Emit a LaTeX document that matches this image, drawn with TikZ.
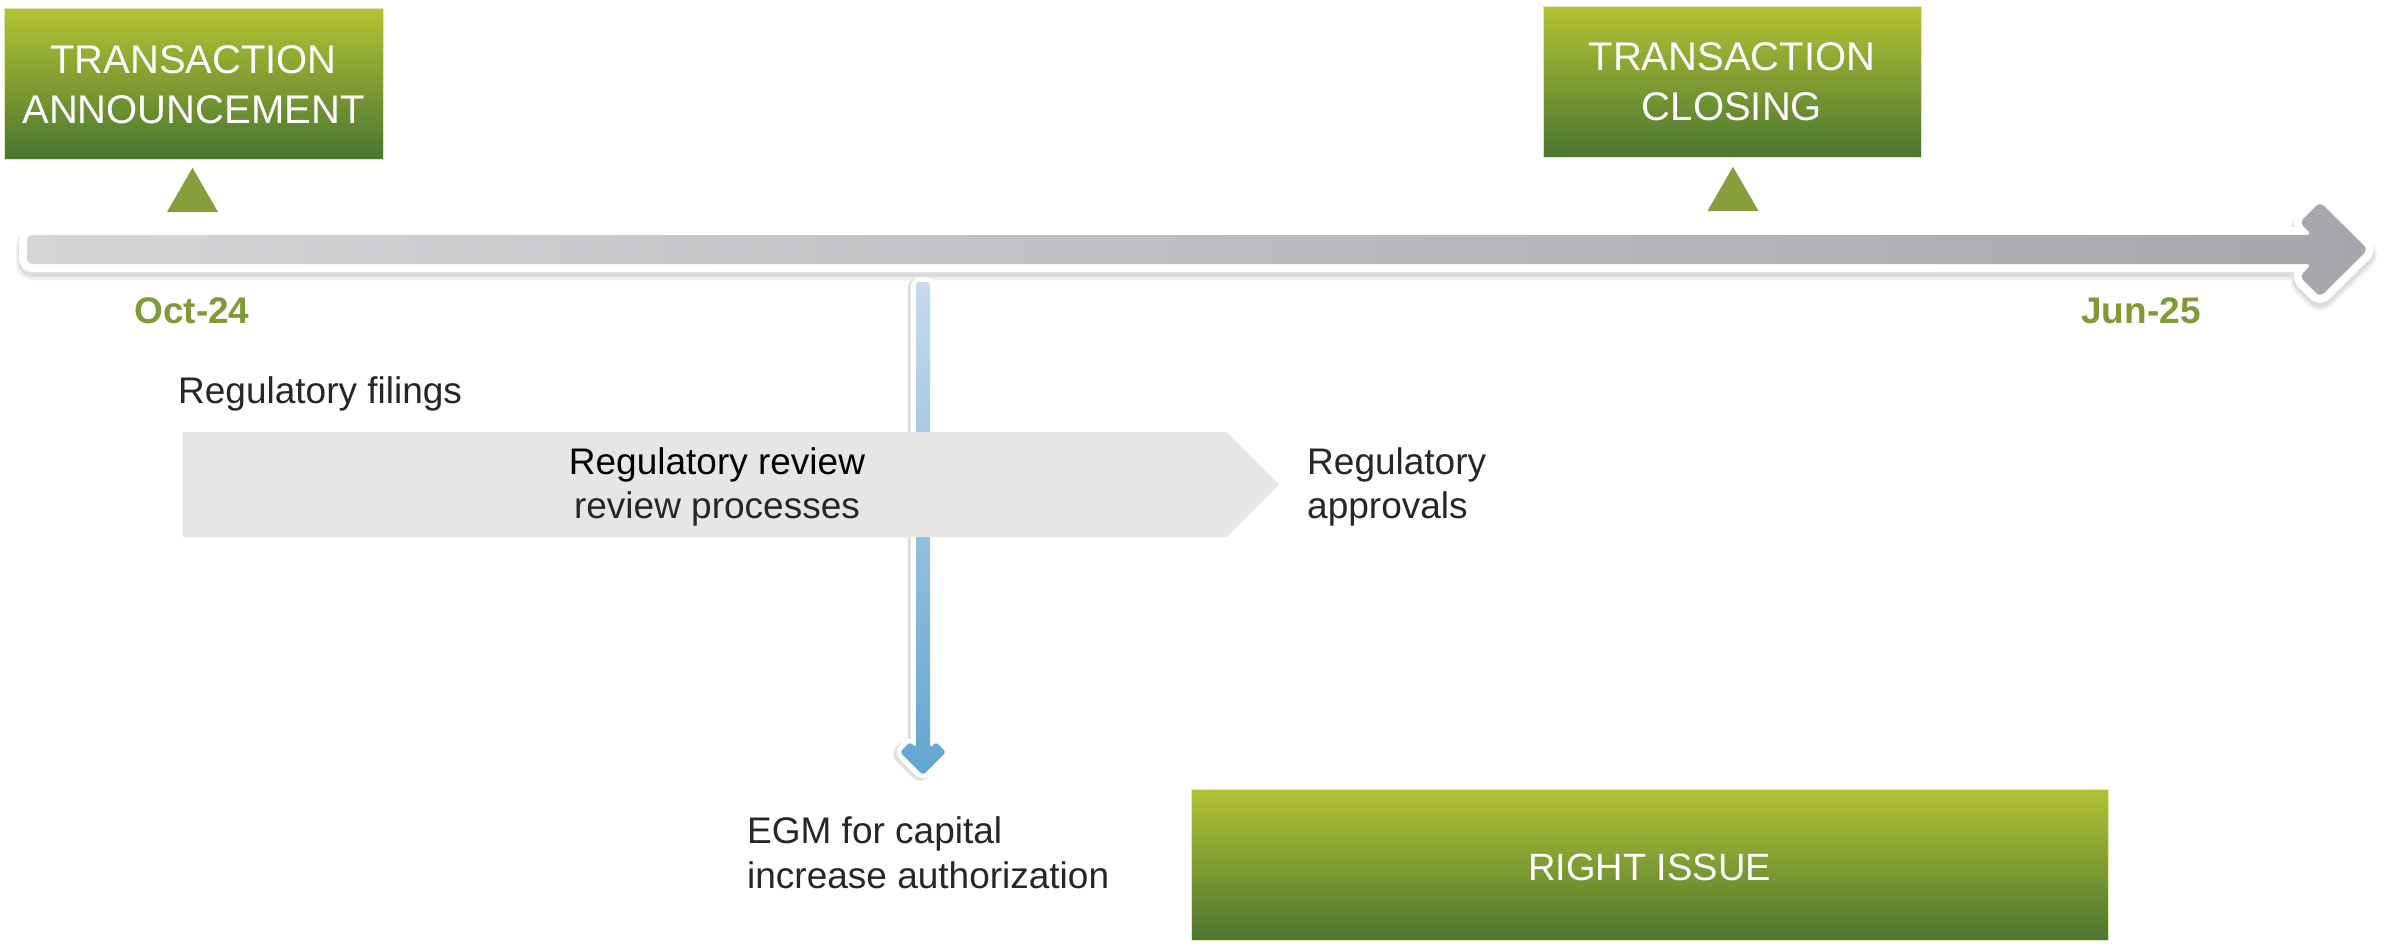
\documentclass[tikz,border=0pt]{standalone}
\usepackage{fontspec}
\setmainfont{Liberation Sans}
\usetikzlibrary{shapes.geometric,shapes.symbols}
\definecolor{gtop}{HTML}{B3C333}
\definecolor{gmid}{HTML}{72B247}
\definecolor{gbot}{HTML}{4B7631}
\definecolor{trigreen}{HTML}{889D3B}
\definecolor{dategreen}{HTML}{7F9A36}
\definecolor{revgray}{HTML}{E6E6E6}
\definecolor{txtdark}{HTML}{262626}
\definecolor{tlleft}{HTML}{D4D5D7}
\definecolor{tlright}{HTML}{A6A7AB}
\definecolor{bluetop}{HTML}{C8D9EB}
\definecolor{bluebot}{HTML}{62A6D0}
\begin{document}
\begin{tikzpicture}[x=1pt,y=-1pt,
  greenbox/.style={rectangle, inner sep=0pt, outer sep=0pt, top color=gtop, middle color=gmid, bottom color=gbot, draw=gtop!40!white, line width=0.8pt},
  headtxt/.style={font=\fontsize{40}{50}\selectfont, text=white, inner sep=0pt, anchor=base},
  bodytxt/.style={font=\fontsize{37}{44}\selectfont, text=txtdark, inner sep=0pt, anchor=base west},
  datetxt/.style={font=\fontsize{37}{44}\selectfont\bfseries, text=dategreen, inner sep=0pt, anchor=base},
  tri/.style={regular polygon, regular polygon sides=3, minimum size=59pt, inner sep=0pt, outer sep=0pt, fill=trigreen},
  arrowborder/.style={draw=white, line width=#1, line join=round, rounded corners=5pt},
]
\useasboundingbox (0,0) rectangle (2394,943);
\fill[white] (0,0) rectangle (2394,943);

% ---- timeline arrow ----
\def\tlpath{(27,235) -- (2312,235) -- (2299.5,222.5) -- (2320,202) -- (2368,249.5) -- (2320,297) -- (2299.5,276.5) -- (2312,264) -- (27,264) -- cycle}
\begin{scope}[yshift=-5pt]
\draw[black, opacity=0.06, line width=22pt, line join=round, rounded corners=5pt] \tlpath;
\end{scope}
\begin{scope}[yshift=-4pt]
\draw[black, opacity=0.08, line width=18pt, line join=round, rounded corners=5pt] \tlpath;
\end{scope}
\draw[arrowborder=16pt] \tlpath;
\shade[left color=tlleft, right color=tlright, rounded corners=5pt] \tlpath;

% ---- blue vertical arrow ----
\def\blpath{(916,282) -- (916,748) -- (910,742) -- (900,752) -- (923,775) -- (946,752) -- (936,742) -- (930,748) -- (930,282) -- cycle}
\begin{scope}[xshift=-3pt, yshift=-2pt]
\draw[black, opacity=0.12, line width=11pt, line join=round, rounded corners=4pt] \blpath;
\end{scope}
\draw[arrowborder=10pt, rounded corners=4pt] \blpath;
\shade[top color=bluetop, bottom color=bluebot, rounded corners=3pt] \blpath;

% ---- header boxes ----
\node[greenbox, minimum width=379pt, minimum height=151pt] (ann) at (193.5,83.5) {};
\node[headtxt] (ann1) at (193.5,73) {TRANSACTION};
\node[headtxt] (ann2) at (193.5,123) {ANNOUNCEMENT};
\node[tri] (tri1) at (192.5,197.3) {};

\node[greenbox, minimum width=378pt, minimum height=151pt] (clo) at (1732,81.5) {};
\node[headtxt] (clo1) at (1732,70) {TRANSACTION};
\node[headtxt] (clo2) at (1732,120) {CLOSING};
\node[tri] (tri2) at (1733,196.3) {};

% ---- dates ----
\node[datetxt] (oct) at (192,323) {Oct-24};
\node[datetxt] (jun) at (2141,323) {Jun-25};

% ---- regulatory ----
\node[bodytxt] (fil) at (178,403) {Regulatory filings};
\node[signal, signal to=east, signal pointer angle=90, minimum width=1096pt, minimum height=105pt, inner sep=0pt, outer sep=0pt, fill=revgray, anchor=west] (rev) at (183,484.5) {};
\node[font=\fontsize{37}{44}\selectfont, text=black, inner sep=0pt, anchor=base] (rev1) at (717,474) {Regulatory review};
\node[font=\fontsize{37}{44}\selectfont, text=txtdark, inner sep=0pt, anchor=base] (rev2) at (717,518) {review processes};
\node[bodytxt] (app1) at (1307,474) {Regulatory};
\node[bodytxt] (app2) at (1307,518) {approvals};

% ---- EGM ----
\node[bodytxt] (egm1) at (747,843) {EGM for capital};
\node[bodytxt] (egm2) at (747,888) {increase authorization};

% ---- right issue ----
\node[greenbox, minimum width=917pt, minimum height=151pt] (ri) at (1649.5,864.5) {};
\node[headtxt, font=\fontsize{38}{46}\selectfont] (ritxt) at (1649.5,880) {RIGHT ISSUE};
\end{tikzpicture}
\end{document}
